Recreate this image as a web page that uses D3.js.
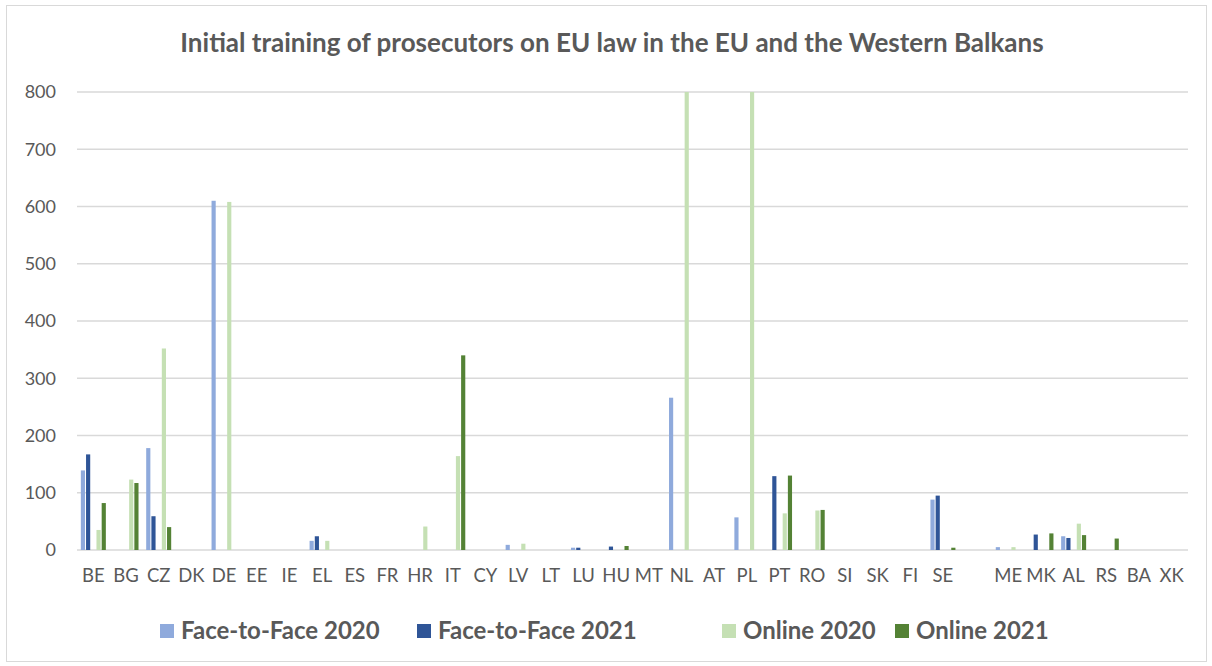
<!DOCTYPE html>
<html>
<head>
<meta charset="utf-8">
<script src="https://cdn.jsdelivr.net/npm/d3@7"></script>
<style>
  body { margin: 0; background: #fff; }
  text { font-family: Lato, "Open Sans", sans-serif; fill: #595959; }
</style>
</head>
<body>
<div id="a"></div>
<script>
// categories (the blank one separates EU from Western Balkans)
var countries = ["BE","BG","CZ","DK","DE","EE","IE","EL","ES","FR","HR","IT","CY","LV","LT","LU","HU","MT","NL","AT","PL","PT","RO","SI","SK","FI","SE","","ME","MK","AL","RS","BA","XK"];

var seriesNames = ["Face-to-Face 2020","Face-to-Face 2021","Online 2020","Online 2021"];
var seriesColors = ["#8FAADC","#2F5597","#C5E0B4","#548235"];

//                  BE  BG  CZ DK  DE EE IE EL ES FR HR  IT CY LV LT LU HU MT  NL AT  PL  PT RO SI SK FI  SE  _ ME MK  AL RS BA XK
var f2f2020    = [139,  0,178, 0,610, 0, 0,16, 0, 0, 0,  0, 0, 9, 0, 4, 0, 0,266, 0, 57,  0, 0, 0, 0, 0, 88, 0, 5, 0, 24, 0, 0, 0];
var f2f2021    = [167,  0, 59, 0,  0, 0, 0,24, 0, 0, 0,  0, 0, 0, 0, 4, 6, 0,  0, 0,  0,129, 0, 0, 0, 0, 95, 0, 0,27, 21, 0, 0, 0];
var online2020 = [ 35,123,352, 0,608, 0, 0,16, 0, 0,41,164, 0,11, 0, 0, 0, 0,1000,0,1000,64,69, 0, 0, 0,  0, 0, 5, 0, 46, 0, 0, 0];
var online2021 = [ 82,117, 40, 0,  0, 0, 0, 0, 0, 0, 0,340, 0, 0, 0, 0, 7, 0,  0, 0,  0,130,70, 0, 0, 0,  4, 0, 0,29, 26,20, 0, 0];
var seriesData = [f2f2020, f2f2021, online2020, online2021];

var yTicks = [0,100,200,300,400,500,600,700,800];

var W = 1212, H = 666;
var plotLeft = 77, plotRight = 1188, plotTop = 92, plotBottom = 550;

var svg = d3.select("#a").append("svg")
  .attr("width", W).attr("height", H);

// chart border
svg.append("rect")
  .attr("x", 6.5).attr("y", 5.5)
  .attr("width", 1200).attr("height", 656)
  .attr("fill", "#fff").attr("stroke", "#D9D9D9").attr("stroke-width", 1);

var x = d3.scaleBand().domain(countries.map(function(d,i){return i})).range([plotLeft, plotRight]).padding(0);
// Excel leaves an empty slot between the face-to-face and online pairs
var slot = d3.scaleBand().domain([0,1,"gap",2,3])
  .range([(x.bandwidth()-25)/2, (x.bandwidth()+25)/2]).paddingInner(0.2);
var y = d3.scaleLinear().domain([0, 800]).range([plotBottom, plotTop]).clamp(true);

// gridlines
svg.append("g").selectAll("line")
  .data(yTicks).enter().append("line")
  .attr("x1", plotLeft).attr("x2", plotRight)
  .attr("y1", function(d){return y(d)}).attr("y2", function(d){return y(d)})
  .attr("stroke", "#D9D9D9").attr("stroke-width", 1.5);

// y labels
svg.append("g").selectAll("text")
  .data(yTicks).enter().append("text")
  .attr("x", 56).attr("y", function(d){return y(d)})
  .attr("dy", "0.35em").attr("text-anchor", "end")
  .style("font-size", "18px")
  .text(function(d){return d});

// x labels
svg.append("g").selectAll("text")
  .data(countries).enter().append("text")
  .attr("x", function(d,i){return x(i) + x.bandwidth()/2})
  .attr("y", 582).attr("text-anchor", "middle")
  .style("font-size", "18.5px")
  .text(function(d){return d});

// bars (keep the category index, skip zeros)
seriesData.forEach(function(vals, s) {
  var pts = vals.map(function(v,i){return {i: i, v: v}}).filter(function(d){return d.v > 0});
  svg.append("g").selectAll("rect")
    .data(pts).enter().append("rect")
    .attr("x", function(d){return x(d.i) + slot(s)})
    .attr("width", slot.bandwidth())
    .attr("y", function(d){return y(d.v)})
    .attr("height", function(d){return y(0) - y(d.v)})
    .attr("fill", seriesColors[s]);
});

// title
svg.append("text")
  .attr("x", 612).attr("y", 52)
  .attr("text-anchor", "middle")
  .style("font-size", "26px").style("font-weight", "bold")
  .text("Initial training of prosecutors on EU law in the EU and the Western Balkans");

// legend
var legendX = [160, 417, 722, 895];
var lg = svg.append("g").selectAll("g")
  .data(seriesNames).enter().append("g")
  .attr("transform", function(d,i){return "translate(" + legendX[i] + ",624)"});
lg.append("rect").attr("width", 14).attr("height", 14)
  .attr("fill", function(d,i){return seriesColors[i]});
lg.append("text").attr("x", 21).attr("y", 15)
  .style("font-size", "24px").style("font-weight", "bold")
  .text(function(d){return d});
</script>
</body>
</html>
